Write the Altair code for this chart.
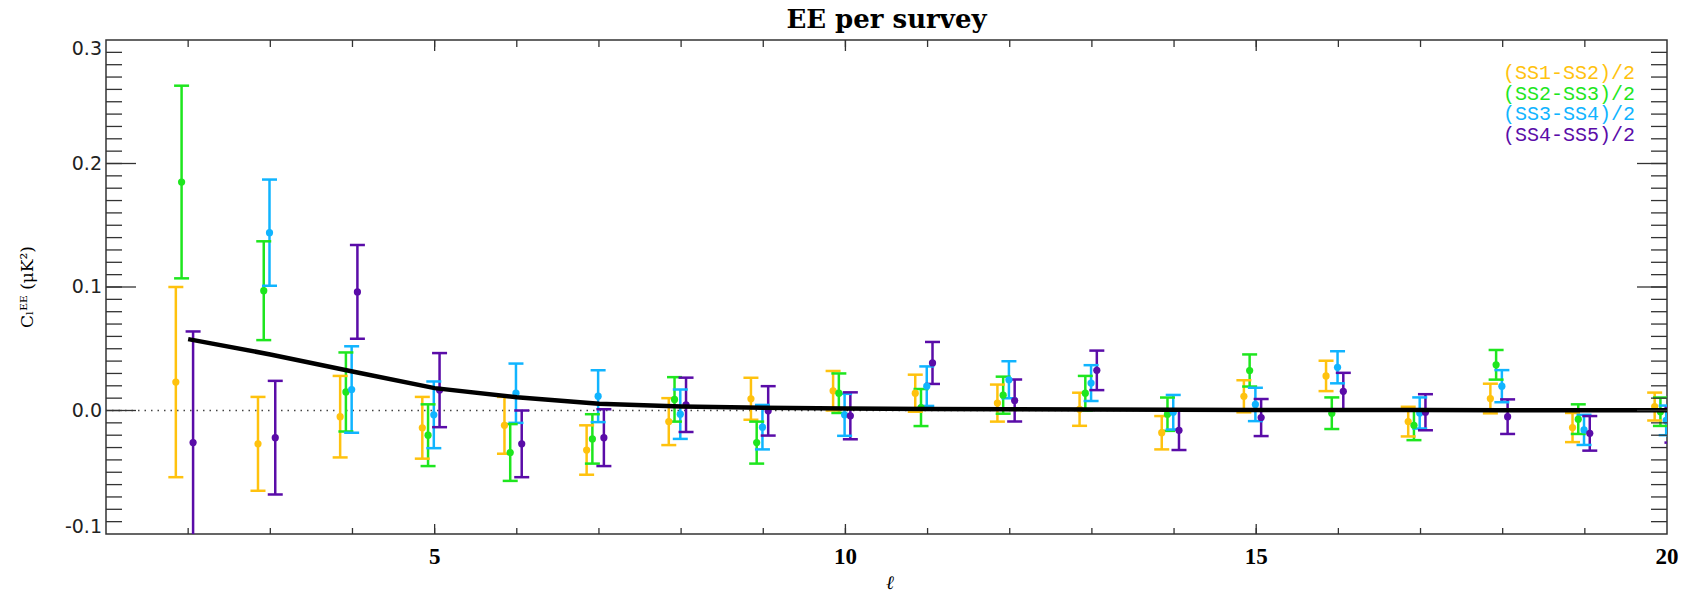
import altair as alt
import pandas as pd

# ---------------- data ----------------
ELL = list(range(2, 21))
SERIES = ["(SS1-SS2)/2", "(SS2-SS3)/2", "(SS3-SS4)/2", "(SS4-SS5)/2"]
COLORS = ["#FFC20E", "#1EE61E", "#10B4FF", "#5A0CA8"]
OFFSETS = [-0.15, -0.08, -0.01, 0.06]

SS12_VAL = [0.023, -0.027, -0.005, -0.014, -0.012, -0.032, -0.009, 0.0095, 0.016, 0.014,
            0.006, 0.001, -0.018, 0.0115, 0.028, -0.009, 0.0097, -0.0138, 0.0032]
SS12_ERR = [0.077, 0.038, 0.033, 0.025, 0.023, 0.020, 0.019, 0.017, 0.016, 0.015,
            0.015, 0.0134, 0.0135, 0.013, 0.0123, 0.012, 0.012, 0.0118, 0.0113]

SS23_VAL = [0.185, 0.097, 0.015, -0.020, -0.034, -0.023, 0.009, -0.026, 0.014, 0.0024,
            0.0124, 0.014, -0.003, 0.0324, -0.0022, -0.012, 0.037, -0.007, -0.001]
SS23_ERR = [0.078, 0.040, 0.032, 0.025, 0.023, 0.020, 0.018, 0.017, 0.016, 0.015,
            0.015, 0.014, 0.0135, 0.013, 0.0128, 0.012, 0.012, 0.012, 0.0115]

SS34_VAL = [None, 0.144, 0.017, -0.0035, 0.014, 0.0116, -0.003, -0.0135, -0.0035, 0.0197,
            0.0249, 0.0222, -0.0014, 0.0049, 0.035, -0.002, 0.0197, -0.0157, -0.008]
SS34_ERR = [None, 0.043, 0.035, 0.027, 0.024, 0.021, 0.020, 0.018, 0.017, 0.016,
            0.015, 0.0145, 0.014, 0.0135, 0.013, 0.0126, 0.013, 0.0122, 0.012]

SS45_VAL = [-0.026, -0.022, 0.096, 0.0165, -0.027, -0.022, 0.0046, -0.0003, -0.0043, 0.0385,
            0.0081, 0.0325, -0.016, -0.0057, 0.0155, -0.0014, -0.005, -0.0185, -0.012]
SS45_ERR = [0.090, 0.046, 0.038, 0.030, 0.027, 0.023, 0.022, 0.020, 0.019, 0.017,
            0.017, 0.016, 0.016, 0.015, 0.015, 0.0146, 0.014, 0.014, 0.014]

THEORY = [0.0578, 0.0454, 0.0316, 0.0181, 0.0108, 0.0054, 0.0032, 0.0022, 0.0016, 0.0012,
          0.0010, 0.0008, 0.0006, 0.0005, 0.0004, 0.0004, 0.0003, 0.0003, 0.0003]

X_MAJOR = [5, 10, 15, 20]
X_LABELS = ["5", "10", "15", "20"]
X_MINOR = list(range(2, 20))
Y_MAJOR = [-0.1, 0.0, 0.1, 0.2, 0.3]
Y_LABELS = ["-0.1", "0.0", "0.1", "0.2", "0.3"]
Y_MINOR = [round(i * 0.01, 2) for i in range(-9, 30)]

TITLE = "EE per survey"
XTITLE = "ℓ"
YTITLE = "Cₗᴱᴱ (μK²)"

# ---------------- layout ----------------
W, H = 1561, 494

rows = []
for name, off, vals, errs in zip(SERIES, OFFSETS,
                                 [SS12_VAL, SS23_VAL, SS34_VAL, SS45_VAL],
                                 [SS12_ERR, SS23_ERR, SS34_ERR, SS45_ERR]):
    for l, v, e in zip(ELL, vals, errs):
        if v is None:
            continue
        rows.append({"series": name, "x": l + off, "val": v, "lo": v - e, "hi": v + e})
df = pd.DataFrame(rows)
theory_df = pd.DataFrame({"x": ELL, "val": THEORY})

xs = alt.Scale(domain=[1, 20], nice=False, zero=False)
ys = alt.Scale(domain=[-0.1, 0.3], nice=False, zero=False)
cs = alt.Scale(domain=SERIES, range=COLORS)

X = lambda f: alt.X(f, scale=xs, axis=None)
Y = lambda f: alt.Y(f, scale=ys, axis=None)
C = alt.Color("series:N", scale=cs, legend=None)

base = alt.Chart(df)
bars = base.mark_rule(strokeWidth=2.5, clip=True).encode(x=X("x:Q"), y=Y("lo:Q"), y2="hi:Q", color=C)
cap_lo = base.mark_tick(orient="horizontal", size=15, thickness=2.5, opacity=1, clip=True).encode(
    x=X("x:Q"), y=Y("lo:Q"), color=C)
cap_hi = base.mark_tick(orient="horizontal", size=15, thickness=2.5, opacity=1, clip=True).encode(
    x=X("x:Q"), y=Y("hi:Q"), color=C)
pts = base.mark_circle(size=52, opacity=1, clip=True).encode(x=X("x:Q"), y=Y("val:Q"), color=C)

zero = alt.Chart(pd.DataFrame({"y": [0.0]})).mark_rule(
    color="#444", strokeWidth=1.3, strokeDash=[1.5, 5]
).encode(y=Y("y:Q"))

theory = alt.Chart(theory_df).mark_line(color="black", strokeWidth=4.5, clip=True).encode(
    x=X("x:Q"), y=Y("val:Q"))

TICK_COLOR = "#333"
def xticks(vals, length):
    d = alt.Chart(pd.DataFrame({"v": vals}))
    bot = d.mark_rule(color=TICK_COLOR, strokeWidth=1.3).encode(
        x=X("v:Q"), y=alt.value(H), y2=alt.value(H - length))
    top = d.mark_rule(color=TICK_COLOR, strokeWidth=1.3).encode(
        x=X("v:Q"), y=alt.value(0), y2=alt.value(length + 1))
    return [bot, top]

def yticks(vals, length):
    d = alt.Chart(pd.DataFrame({"v": vals}))
    left = d.mark_rule(color=TICK_COLOR, strokeWidth=1.3).encode(
        y=Y("v:Q"), x=alt.value(0), x2=alt.value(length))
    right = d.mark_rule(color=TICK_COLOR, strokeWidth=1.3).encode(
        y=Y("v:Q"), x=alt.value(W), x2=alt.value(W - length))
    return [left, right]

tick_layers = xticks(X_MINOR, 6) + xticks(X_MAJOR[:-1], 10) + yticks(Y_MINOR, 16) + yticks(Y_MAJOR[1:-1], 30)

# tick labels, drawn through the scales
xlab_df = pd.DataFrame({"v": X_MAJOR, "t": X_LABELS})
xlabels = alt.Chart(xlab_df).mark_text(
    font="Liberation Serif", fontWeight="bold", fontSize=23, color="black",
    align="center", baseline="middle"
).encode(x=X("v:Q"), y=alt.value(H + 23), text="t:N")

ylab_df = pd.DataFrame({"v": Y_MAJOR, "t": Y_LABELS})
def ylab(filt, dy):
    return alt.Chart(ylab_df).transform_filter(filt).mark_text(
        font="DejaVu Sans", fontSize=19, color="#222", align="right", baseline="middle", dy=dy
    ).encode(y=Y("v:Q"), x=alt.value(-4), text="t:N")

ylabels_mid = ylab("datum.v > -0.05 && datum.v < 0.25", 0)
ylabels_top = ylab("datum.v > 0.25", 9)
ylabels_bot = ylab("datum.v < -0.05", -7)

xtitle = alt.Chart(pd.DataFrame({"t": [XTITLE]})).mark_text(
    font="DejaVu Serif", fontStyle="italic", fontSize=19, color="black",
    align="center", baseline="middle"
).encode(text="t:N", x=alt.value(784), y=alt.value(H + 49))

ytitle = alt.Chart(pd.DataFrame({"t": [YTITLE]})).mark_text(
    font="DejaVu Serif", fontSize=17, color="black",
    align="center", baseline="middle"
).encode(text="t:N", x=alt.value(-78), y=alt.value(H / 2), angle=alt.value(270))

title = alt.Chart(pd.DataFrame({"t": [TITLE]})).mark_text(
    font="DejaVu Serif", fontSize=26, fontWeight="bold", color="black",
    align="center", baseline="alphabetic"
).encode(text="t:N", x=alt.value(W / 2), y=alt.value(-12))

legend_layers = []
for i, (name, col) in enumerate(zip(SERIES, COLORS)):
    legend_layers.append(
        alt.Chart(pd.DataFrame({"t": [name]})).mark_text(
            font="Liberation Mono", fontSize=20, color=col, align="right", baseline="middle"
        ).encode(text="t:N", x=alt.value(1529), y=alt.value(33 + 20.5 * i))
    )

chart = alt.layer(
    zero, bars, cap_lo, cap_hi, pts, theory, *tick_layers,
    xlabels, ylabels_mid, ylabels_top, ylabels_bot, xtitle, ytitle, title, *legend_layers
).properties(
    width=W, height=H,
    autosize=alt.AutoSizeParams(type="none"),
    padding={"left": 106, "top": 40, "right": 24, "bottom": 61},
    background="white",
).configure_view(stroke="#333", strokeWidth=1.5)

chart.save("out.html", embed_options={"renderer": "svg", "actions": False})
